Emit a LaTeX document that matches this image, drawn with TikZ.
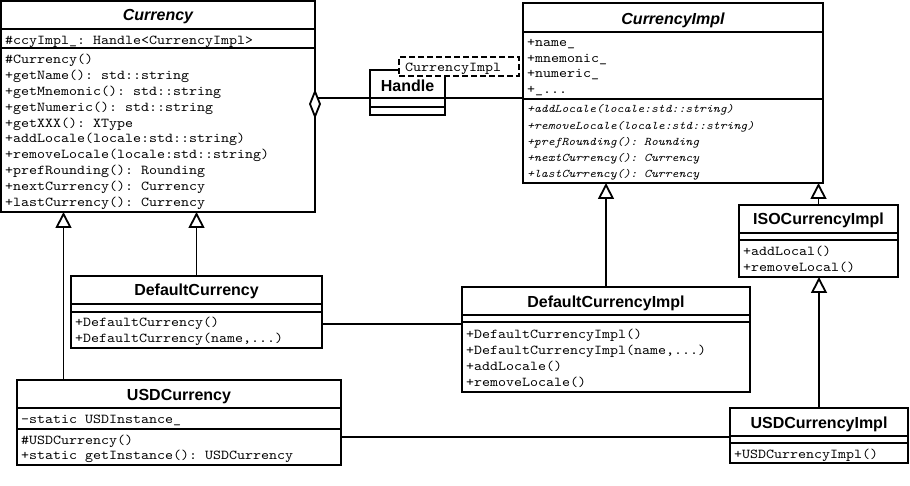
\documentclass[tikz,border=0pt]{standalone}
\usepackage{fontspec}
\setsansfont{Liberation Sans}
\setmonofont{lmmono10-regular.otf}[FakeStretch=1.12, ItalicFont=lmmono10-italic.otf]
\usetikzlibrary{arrows.meta,shapes.geometric}
\newcommand\monoA{\fontsize{13.6}{16}\selectfont\ttfamily}
\newcommand\monoI{\fontsize{11.7}{14}\selectfont\ttfamily\itshape}
\newcommand\titlefont{\fontsize{16}{19}\selectfont\sffamily\bfseries}
\newcommand\tdots{...}
\tikzset{
  umlbox/.style={draw, line width=1.8pt, fill=white, anchor=north west, inner sep=0pt, outer sep=0pt},
  compsep/.style={line width=1.8pt},
  ttl/.style={anchor=base, inner sep=0pt, font=\titlefont},
  ttli/.style={anchor=base, inner sep=0pt, font=\titlefont\itshape},
  mem/.style={anchor=base west, inner sep=0pt, font=\monoA},
  memi/.style={anchor=base west, inner sep=0pt, font=\monoI},
  link/.style={line width=1.8pt},
  gen/.style={link, -{Triangle[open, length=16pt, width=16pt]}},
}
\begin{document}
\begin{tikzpicture}[x=1pt,y=-1pt]
\useasboundingbox (0,0) rectangle (910,486);

% ---------------- Currency
\node[umlbox, minimum width=314pt, minimum height=211pt] (cur) at (1,1) {};
\draw[compsep] (1,29) -- (315,29);
\draw[compsep] (1,48) -- (315,48);
\node[ttli] (cur-t) at (158,21) {Currency};
\node[mem] (cur-a1) at (5,45) {\#ccyImpl\_: Handle<CurrencyImpl>};
\foreach \t [count=\i] in {\#Currency(), +getName(): std::string, +getMnemonic(): std::string,
  +getNumeric(): std::string, +getXXX(): XType, +addLocale(locale:std::string),
  +removeLocale(locale:std::string), +prefRounding(): Rounding,
  +nextCurrency(): Currency, +lastCurrency(): Currency}
  \node[mem] (cur-o\i) at (5,47.6+15.9*\i) {\t};

% ---------------- CurrencyImpl
\node[umlbox, minimum width=300pt, minimum height=180pt] (impl) at (523,3) {};
\draw[compsep] (523,32) -- (823,32);
\draw[compsep] (523,99) -- (823,99);
\node[ttli] (impl-t) at (673,24.5) {CurrencyImpl};
\foreach \t [count=\i] in {+name\_, +mnemonic\_, +numeric\_, +\_\tdots}
  \node[mem] (impl-a\i) at (527,30.9+15.6*\i) {\t};
\foreach \t [count=\i] in {+addLocale(locale:std::string), +removeLocale(locale:std::string),
  +prefRounding(): Rounding, +nextCurrency(): Currency, +lastCurrency(): Currency}
  \node[memi] (impl-o\i) at (527,96.8+16.2*\i) {\t};

% ---------------- Handle with template
\node[umlbox, minimum width=75pt, minimum height=45pt] (han) at (370,70) {};
\draw[compsep] (370,98) -- (445,98);
\draw[compsep] (370,107) -- (445,107);
\node[ttl] (han-t) at (407.5,91.5) {Handle};
\node[umlbox, dashed, dash pattern=on 6pt off 3pt, minimum width=120pt, minimum height=19pt] (tmpl) at (399,57) {};
\node[mem] (tmpl-t) at (405,71.5) {CurrencyImpl};

% ---------------- ISOCurrencyImpl
\node[umlbox, minimum width=159pt, minimum height=72pt] (iso) at (739,205) {};
\draw[compsep] (739,233) -- (898,233);
\draw[compsep] (739,240) -- (898,240);
\node[ttl] (iso-t) at (818.5,225) {ISOCurrencyImpl};
\node[mem] (iso-o1) at (743,255.5) {+addLocal()};
\node[mem] (iso-o2) at (743,271.5) {+removeLocal()};

% ---------------- DefaultCurrencyImpl
\node[umlbox, minimum width=288pt, minimum height=105pt] (dci) at (462,287) {};
\draw[compsep] (462,315) -- (750,315);
\draw[compsep] (462,322) -- (750,322);
\node[ttl] (dci-t) at (606,307) {DefaultCurrencyImpl};
\foreach \t [count=\i] in {+DefaultCurrencyImpl(), {+DefaultCurrencyImpl(name,\tdots)}, +addLocale(), +removeLocale()}
  \node[mem] (dci-o\i) at (466,321.7+16.3*\i) {\t};

% ---------------- DefaultCurrency
\node[umlbox, minimum width=251pt, minimum height=72pt] (dc) at (71,276) {};
\draw[compsep] (71,304) -- (322,304);
\draw[compsep] (71,312) -- (322,312);
\node[ttl] (dc-t) at (196.5,296) {DefaultCurrency};
\node[mem] (dc-o1) at (75,326.5) {+DefaultCurrency()};
\node[mem] (dc-o2) at (75,342.5) {+DefaultCurrency(name,\tdots)};

% ---------------- USDCurrency
\node[umlbox, minimum width=324pt, minimum height=85pt] (usd) at (17,380) {};
\draw[compsep] (17,408) -- (341,408);
\draw[compsep] (17,429) -- (341,429);
\node[ttl] (usd-t) at (179,400.5) {USDCurrency};
\node[mem] (usd-a1) at (21,423.5) {-static USDInstance\_};
\node[mem] (usd-o1) at (21,444) {\#USDCurrency()};
\node[mem] (usd-o2) at (21,459.5) {+static getInstance(): USDCurrency};

% ---------------- USDCurrencyImpl
\node[umlbox, minimum width=178pt, minimum height=55pt] (usdi) at (730,408) {};
\draw[compsep] (730,436) -- (908,436);
\draw[compsep] (730,443) -- (908,443);
\node[ttl] (usdi-t) at (819,428) {USDCurrencyImpl};
\node[mem] (usdi-o1) at (734,458) {+USDCurrencyImpl()};

% ---------------- connectors
\coordinate (g1) at (63.5,0);
\coordinate (ya) at (0,324);
\coordinate (yb) at (0,437);
\draw[gen] (usd.north -| g1) -- (cur.south -| g1);
\draw[gen] (dc.north) -- (cur.south -| dc.north);
\draw[gen] (dci.north) -- (impl.south -| dci.north);
\draw[gen] (iso.north) -- (impl.south -| iso.north);
\draw[gen] (usdi.north) -- (iso.south -| usdi.north);
\draw[link] (dc.east |- ya) -- (dci.west |- ya);
\draw[link] (usd.east |- yb) -- (usdi.west |- yb);

% aggregation
\node[draw, diamond, fill=white, line width=1.8pt, minimum width=10pt, minimum height=25pt,
  inner sep=0pt, outer sep=0pt] (agg) at (315,104) {};
\draw[link] (agg.north east) -- (agg.north east -| han.west);
\draw[link] (han.east |- agg.north east) -- (agg.north east -| impl.west);
\end{tikzpicture}
\end{document}
